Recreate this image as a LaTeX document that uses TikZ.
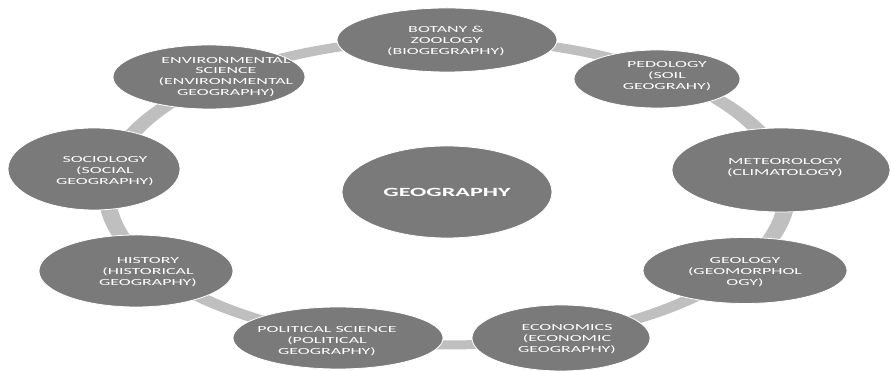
\documentclass[tikz,border=0pt]{standalone}
\usepackage{fontspec}
\newfontfamily\lbl[FakeStretch=1.93]{Carlito}
\usetikzlibrary{shapes.geometric,calc}
\definecolor{ringgray}{HTML}{BFBFBF}
\definecolor{nodegray}{HTML}{7A7A7A}
\begin{document}
\begin{tikzpicture}[x=1pt,y=1pt,
  bubble/.style={ellipse, fill=nodegray, draw=white, line width=0.8pt, inner sep=0pt},
  txt/.style={text=white, align=center, inner sep=0pt, font=\lbl\fontsize{9.3}{10.8}\selectfont},
  bigtxt/.style={text=white, align=center, inner sep=0pt, font=\lbl\bfseries\fontsize{12.5}{14}\selectfont},
  ring/.style={draw=ringgray, line width=9pt},
  ringarc/.style={x radius=176.2pt, y radius=153pt}]
\useasboundingbox (0,0) rectangle (891,371);
% connectors: ring arcs, drawn in a horizontally stretched canvas (x 1.93)
\begin{scope}[transform canvas={xscale=1.93}]
\coordinate (rc) at (231.6,179);
\coordinate (r-bot) at ($(rc)+(90:176.2pt and 153pt)$);
\coordinate (r-ped) at ($(rc)+(50.9:176.2pt and 153pt)$);
\coordinate (r-met) at ($(rc)+(8.6:176.2pt and 153pt)$);
\coordinate (r-geo) at ($(rc)+(-31.2:176.2pt and 153pt)$);
\coordinate (r-eco) at ($(rc)+(-71:176.2pt and 153pt)$);
\coordinate (r-pol) at ($(rc)+(-108:176.2pt and 153pt)$);
\coordinate (r-his) at ($(rc)+(-150:176.2pt and 153pt)$);
\coordinate (r-soc) at ($(rc)+(-188.6:176.2pt and 153pt)$);
\coordinate (r-env) at ($(rc)+(-228:176.2pt and 153pt)$);
\draw[ring] (r-bot) arc[ringarc, start angle=90, end angle=50.9];
\draw[ring] (r-ped) arc[ringarc, start angle=50.9, end angle=8.6];
\draw[ring] (r-met) arc[ringarc, start angle=8.6, end angle=-31.2];
\draw[ring] (r-geo) arc[ringarc, start angle=-31.2, end angle=-71];
\draw[ring] (r-eco) arc[ringarc, start angle=-71, end angle=-108];
\draw[ring] (r-pol) arc[ringarc, start angle=-108, end angle=-150];
\draw[ring] (r-his) arc[ringarc, start angle=-150, end angle=-188.6];
\draw[ring] (r-soc) arc[ringarc, start angle=-188.6, end angle=-228];
\draw[ring] (r-env) arc[ringarc, start angle=-228, end angle=-270];
\end{scope}
% ellipses
\coordinate (ctr) at (447,179);
\node[bubble, minimum width=220pt, minimum height=64pt] (bot) at (447,331) {};
\node[bubble, minimum width=166pt, minimum height=58pt] (ped) at (657,292) {};
\node[bubble, minimum width=218pt, minimum height=84pt] (met) at (781,201) {};
\node[bubble, minimum width=204pt, minimum height=66pt] (geo) at (745,100.5) {};
\node[bubble, minimum width=178pt, minimum height=66pt] (eco) at (561,33) {};
\node[bubble, minimum width=210pt, minimum height=62pt] (pol) at (338,33) {};
\node[bubble, minimum width=194pt, minimum height=72pt] (his) at (136,100) {};
\node[bubble, minimum width=172pt, minimum height=82pt] (soc) at (94,202) {};
\node[bubble, minimum width=192pt, minimum height=64pt] (env) at (209,294) {};
\node[bubble, minimum width=210pt, minimum height=92pt] (gg) at (ctr) {};
% labels
\node[txt] (bot-t) at (446,330) {BOTANY \&\\ZOOLOGY\\(BIOGEGRAPHY)};
\node[txt] (ped-t) at (667,295) {PEDOLOGY\\(SOIL\\GEOGRAHY)};
\node[txt] (met-t) at (785,203) {METEOROLOGY\\(CLIMATOLOGY)};
\node[txt] (geo-t) at (745,99) {GEOLOGY\\(GEOMORPHOL\\OGY)};
\node[txt] (eco-t) at (567,32) {ECONOMICS\\(ECONOMIC\\GEOGRAPHY)};
\node[txt] (pol-t) at (327,30) {POLITICAL SCIENCE\\(POLITICAL\\GEOGRAPHY)};
\node[txt] (his-t) at (148,99) {HISTORY\\(HISTORICAL\\GEOGRAPHY)};
\node[txt] (soc-t) at (105,200) {SOCIOLOGY\\(SOCIAL\\GEOGRAPHY)};
\node[txt] (env-t) at (226,294) {ENVIRONMENTAL\\SCIENCE\\(ENVIRONMENTAL\\GEOGRAPHY)};
\node[bigtxt] (gg-t) at (447,179) {GEOGRAPHY};
\end{tikzpicture}
\end{document}
